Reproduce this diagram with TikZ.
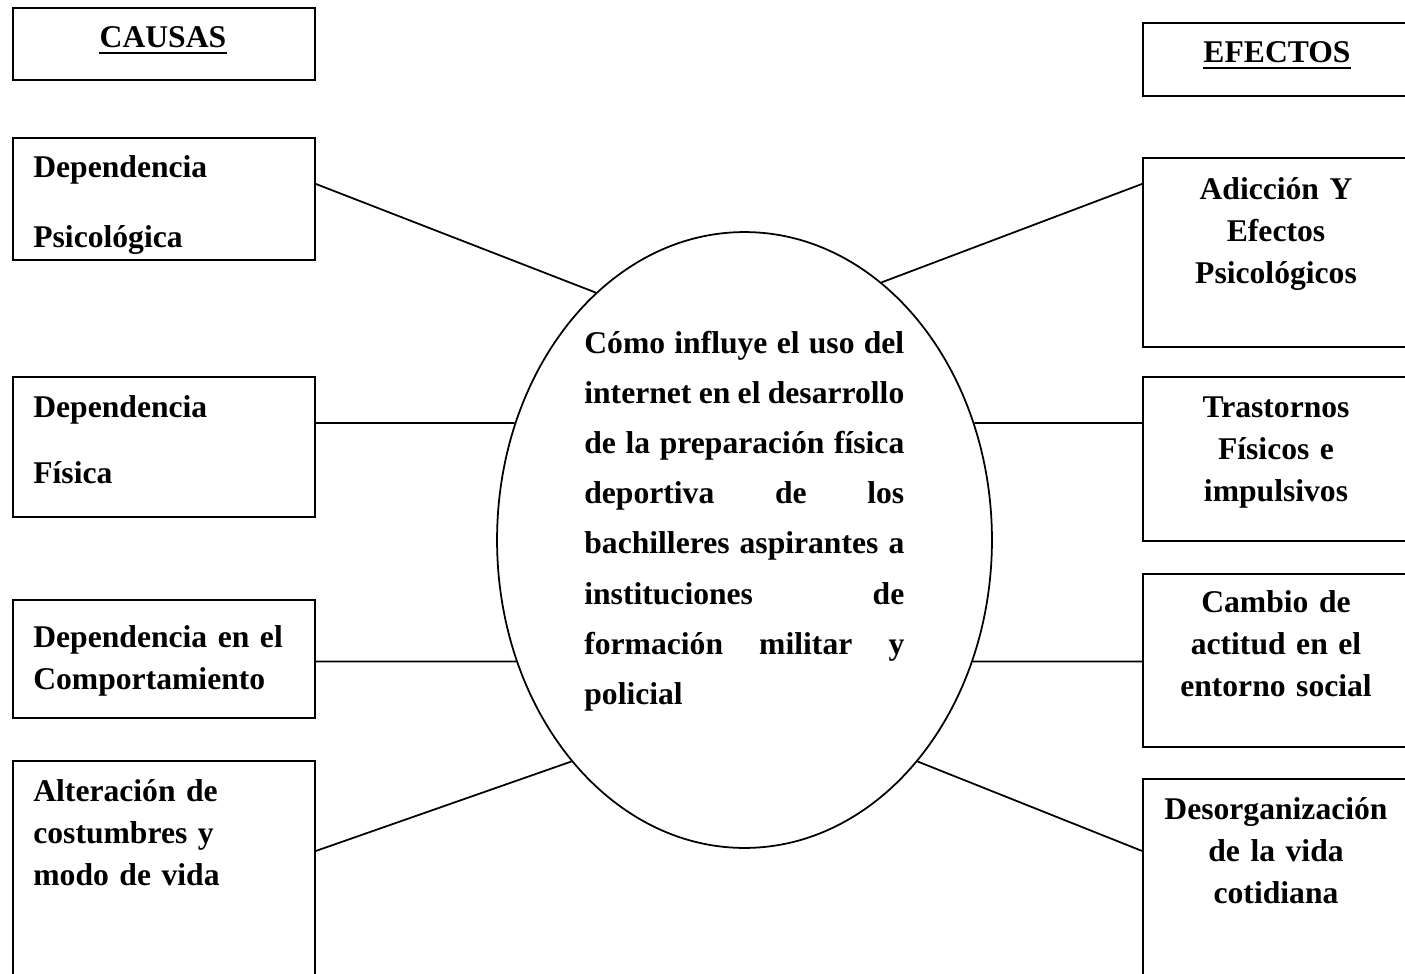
\documentclass[tikz,border=0pt]{standalone}
\usepackage{fontspec}
\setmainfont{Liberation Serif}
\usetikzlibrary{shapes.geometric}
\tikzset{
    caja/.style={draw, line width=1.1pt, inner sep=0pt, anchor=north west}, % recuadros
    conector/.style={line width=1pt},
    texto/.style={inner sep=0pt, font=\bfseries\fontsize{18}{24}\selectfont},
    izq/.style={texto, text width=5.4cm, align=left, anchor=base west},
    der/.style={texto, text width=5cm, align=center, anchor=base},
    rotulo/.style={texto, anchor=base}
    %    node distance=2cm
}

\begin{document}
\begin{tikzpicture}[x=0.02cm, y=-0.02cm]
    \useasboundingbox (0,0) rectangle (1405,973);
    \clip (0,0) rectangle (1405,973);
    % causas
    \draw
        node [caja, minimum width=6.04cm, minimum height=1.44cm] (causas) at (12,7) {}
        node [caja, minimum width=6.04cm, minimum height=2.44cm] (causa1) at (12,137) {}
        node [caja, minimum width=6.04cm, minimum height=2.8cm] (causa2) at (12,376) {}
        node [caja, minimum width=6.04cm, minimum height=2.36cm] (causa3) at (12,599) {}
        node [caja, minimum width=6.04cm, minimum height=4.8cm] (causa4) at (12,760) {}
    ;
    % efectos
    \draw
        node [caja, minimum width=5.4cm, minimum height=1.46cm] (efectos) at (1142,22) {}
        node [caja, minimum width=5.4cm, minimum height=3.78cm] (efecto1) at (1142,157) {}
        node [caja, minimum width=5.4cm, minimum height=3.28cm] (efecto2) at (1142,376) {}
        node [caja, minimum width=5.4cm, minimum height=3.46cm] (efecto3) at (1142,573) {}
        node [caja, minimum width=5.4cm, minimum height=4.44cm] (efecto4) at (1142,778) {}
    ;
    % problema
    \node [ellipse, draw, line width=1pt, inner sep=0pt,
        minimum width=9.9cm, minimum height=12.32cm] (problema) at (744.5,540) {};
    \node [texto, text width=6.4cm, align=justify, anchor=base west,
        font=\bfseries\fontsize{18}{28.6}\selectfont] (tproblema) at (584,353)
        {\tolerance=10000 \hyphenpenalty=10000
        Cómo influye el uso del\linebreak
        internet en el desarrollo\linebreak
        de la preparación física\linebreak
        deportiva de los\linebreak
        bachilleres aspirantes a\linebreak
        instituciones de\linebreak
        formación militar y\linebreak
        policial};

    \node [rotulo] (tcausas) at (163,48) {CAUSAS};
    \node [rotulo] (tefectos) at (1277,63) {EFECTOS};
    \draw
        [line width=1.4pt]
        ([yshift=-3pt]tcausas.base west) -- ([yshift=-3pt]tcausas.base east)
        ([yshift=-3pt]tefectos.base west) -- ([yshift=-3pt]tefectos.base east)
    ;

    \node [izq] (tcausa1) at (33,177) {Dependencia\\[16pt] Psicológica};
    \node [izq] (tcausa2) at (33,417) {Dependencia\\[14pt] Física};
    \node [izq] (tcausa3) at (33,647) {Dependencia en el\\ Comportamiento};
    \node [izq] (tcausa4) at (33,801) {Alteración de\\ costumbres y\\ modo de vida};

    \node [der] (tefecto1) at (1276,199) {Adicción Y\\ Efectos\\ Psicológicos};
    \node [der] (tefecto2) at (1276,417) {Trastornos\\ Físicos e\\ impulsivos};
    \node [der] (tefecto3) at (1276,612) {Cambio de\\ actitud en el\\ entorno social};
    \node [der] (tefecto4) at (1276,819) {Desorganización\\ de la vida\\ cotidiana};

    \draw
        [conector]
        ([yshift=3mm]causa1.east) -- (problema.121)
        (problema.153 -| causa2.east) -- (problema.153)
        (problema.208 -| causa3.east) -- (problema.208)
        ([yshift=6mm]causa4.east) -- (problema.232)
        ([yshift=13.7mm]efecto1.west) -- (problema.62)
        (problema.27 -| efecto2.west) -- (problema.27)
        (problema.332 -| efecto3.west) -- (problema.332)
        ([yshift=7.8mm]efecto4.west) -- (problema.308)
    ;
\end{tikzpicture}
\end{document}
